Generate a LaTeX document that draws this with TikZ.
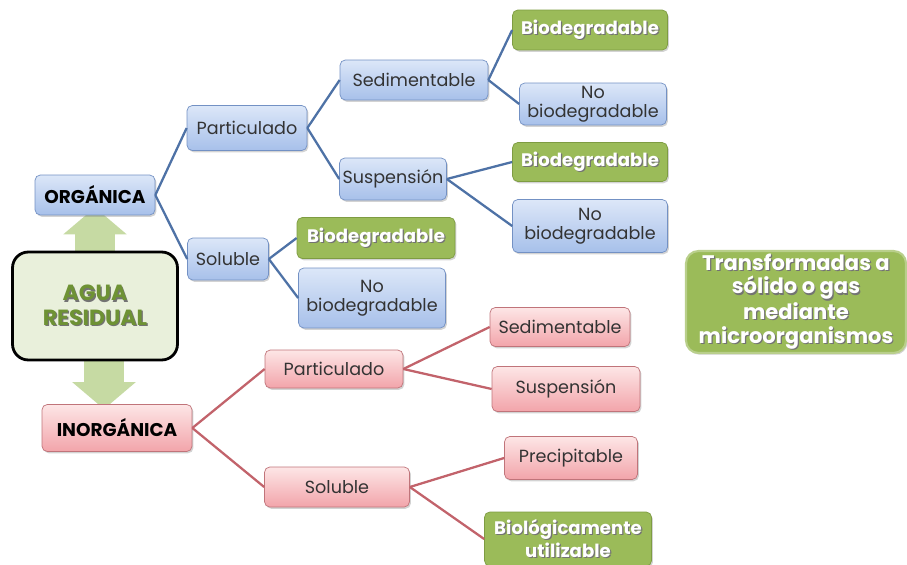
\documentclass[tikz,border=0pt]{standalone}
\usepackage{fontspec}
\setmainfont{Poppins}
\usetikzlibrary{positioning,shadows,arrows.meta,backgrounds}

\definecolor{blutop}{HTML}{DCE7F8}
\definecolor{blubot}{HTML}{A7C0EA}
\definecolor{bluedge}{HTML}{7391C4}
\definecolor{bluline}{HTML}{4E72A6}
\definecolor{redtop}{HTML}{FDE6E6}
\definecolor{redbot}{HTML}{F2A4AA}
\definecolor{rededge}{HTML}{C0747A}
\definecolor{redlin}{HTML}{C2636B}
\definecolor{grnfill}{HTML}{9BBB59}
\definecolor{grnedge}{HTML}{7E9C42}
\definecolor{aguafill}{HTML}{E9F0DB}
\definecolor{aguatext}{HTML}{6E9234}
\definecolor{arrgrn}{HTML}{C6DAA3}
\definecolor{txtgray}{HTML}{333333}

% texto con sombra
\newcommand\shd[1]{\leavevmode\rlap{\color{black!55}\hspace{0.7pt}\raisebox{-0.7pt}{#1}}#1}

\tikzset{
  box/.style={draw, rounded corners=3pt, align=center, inner sep=1.5pt,
    font=\fontsize{10}{11}\selectfont,
    drop shadow={opacity=0.35, shadow xshift=0.8pt, shadow yshift=-1pt}},
  blubox/.style={box, draw=bluedge, top color=blutop, bottom color=blubot, text=txtgray},
  redbox/.style={box, draw=rededge, top color=redtop, bottom color=redbot, text=txtgray},
  grnbox/.style={box, draw=grnedge, fill=grnfill, text=white, font=\fontsize{10.3}{11}\selectfont\bfseries},
  titbox/.style={font=\fontsize{10.5}{11}\selectfont\bfseries, text=black},
  blulink/.style={draw=bluline, line width=1.3pt},
  redlink/.style={draw=redlin, line width=1.3pt},
  bigarr/.style={draw=arrgrn, line width=0.8cm, -{Triangle[width=1.24cm,length=0.54cm]}}
}

\begin{document}
\begin{tikzpicture}[x=0.02cm,y=-0.02cm]
\useasboundingbox (0,0) rectangle (907,565);

% raiz
\node[draw=black, line width=1.6pt, rounded corners=9pt, fill=aguafill, minimum width=3.3cm, minimum height=2.16cm,
  align=center, text=aguatext, font=\fontsize{12.5}{14}\selectfont\bfseries] (agua) at (95,306) {\shd{AGUA}\\\shd{RESIDUAL}};
\node[blubox, titbox, minimum width=2.4cm, minimum height=0.8cm] (org) at (95,195) {ORGÁNICA};
\node[redbox, titbox, minimum width=3cm, minimum height=0.94cm] (inorg) at (117,428) {INORGÁNICA};

\begin{scope}[on background layer]
\draw[bigarr] (agua.north) -- ([yshift=0.16cm]org.south);
\draw[bigarr] ([xshift=0.18cm]agua.south) -- ([xshift=0.18cm,yshift=-0.1cm]agua.south |- inorg.north);
\end{scope}

% rama organica
\node[blubox, minimum width=2.4cm, minimum height=0.9cm] (opart) at (247,128) {Particulado};
\node[blubox, minimum width=1.62cm, minimum height=0.84cm] (osol) at (228,259) {Soluble};
\node[blubox, minimum width=2.96cm, minimum height=0.8cm] (osed) at (414,80) {Sedimentable};
\node[blubox, minimum width=2.14cm, minimum height=0.84cm] (osus) at (393,179) {Suspensión};
\node[grnbox, minimum width=3.1cm, minimum height=0.8cm] (obio1) at (590,30) {\shd{Biodegradable}};
\node[blubox, minimum width=2.94cm, minimum height=0.84cm] (ono1) at (593,104) {No\\biodegradable};
\node[grnbox, minimum width=3.1cm, minimum height=0.78cm] (obio2) at (590,162) {\shd{Biodegradable}};
\node[blubox, minimum width=3.1cm, minimum height=1.06cm] (ono2) at (590,226) {No\\biodegradable};
\node[grnbox, minimum width=3.16cm, minimum height=0.82cm] (obio3) at (376,238) {\shd{Biodegradable}};
\node[blubox, minimum width=2.94cm, minimum height=1.2cm] (ono3) at (372,298) {No\\biodegradable};

\draw[blulink] (org.east) -- (opart.west);
\draw[blulink] (org.east) -- (osol.west);
\draw[blulink] (opart.east) -- (osed.west);
\draw[blulink] (opart.east) -- (osus.west);
\draw[blulink] (osed.east) -- (obio1.west);
\draw[blulink] (osed.east) -- (ono1.west);
\draw[blulink] (osus.east) -- (obio2.west);
\draw[blulink] (osus.east) -- (ono2.west);
\draw[blulink] (osol.east) -- (obio3.west);
\draw[blulink] (osol.east) -- (ono3.west);

% rama inorganica
\node[redbox, minimum width=2.76cm, minimum height=0.76cm] (ipart) at (334,369) {Particulado};
\node[redbox, minimum width=2.9cm, minimum height=0.8cm] (isol) at (337,487) {Soluble};
\node[redbox, minimum width=2.8cm, minimum height=0.78cm] (ised) at (560,327) {Sedimentable};
\node[redbox, minimum width=2.96cm, minimum height=0.9cm] (isus) at (566,389) {Suspensión};
\node[redbox, minimum width=2.66cm, minimum height=0.86cm] (iprec) at (571,458) {Precipitable};
\node[grnbox, minimum width=3.34cm, minimum height=1.08cm, font=\fontsize{10.3}{10.5}\selectfont\bfseries] (ibio) at (568,539) {\shd{Biológicamente}\\\shd{utilizable}};

\draw[redlink] (inorg.east) -- (ipart.west);
\draw[redlink] (inorg.east) -- (isol.west);
\draw[redlink] (ipart.east) -- (ised.west);
\draw[redlink] (ipart.east) -- (isus.west);
\draw[redlink] (isol.east) -- (iprec.west);
\draw[redlink] (isol.east) -- (ibio.west);

% nota
\node[grnbox, draw=grnfill!70!white, line width=1.2pt, rounded corners=7pt, minimum width=4.4cm, minimum height=2cm,
  font=\fontsize{12}{13.5}\selectfont\bfseries] (trans) at (796,302)
  {\shd{Transformadas a}\\\shd{sólido o gas}\\\shd{mediante}\\\shd{microorganismos}};
\end{tikzpicture}
\end{document}
